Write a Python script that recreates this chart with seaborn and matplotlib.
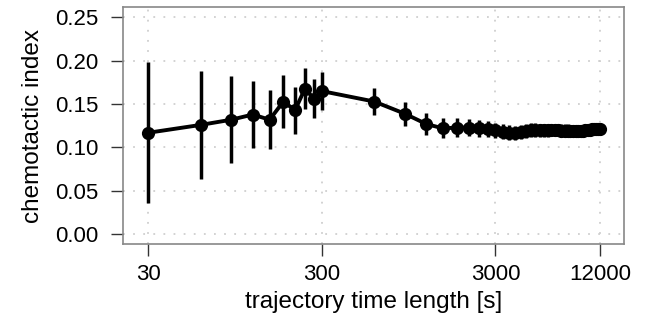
import matplotlib
matplotlib.use("Agg")
import matplotlib.pyplot as plt
import seaborn as sns
import pandas as pd
import numpy as np

# trajectory time length [s]
time_length = [30, 60, 90, 120, 150, 180, 210, 240, 270, 300,
               600, 900, 1200, 1500, 1800, 2100, 2400, 2700, 3000,
               3300, 3600, 3900, 4200, 4500, 4800, 5100, 5400, 5700, 6000,
               6300, 6600, 6900, 7200, 7500, 7800, 8100, 8400, 8700, 9000,
               9300, 9600, 9900, 10200, 10500, 10800, 11100, 11400, 11700, 12000]
chemotactic_index = [0.117, 0.126, 0.132, 0.138, 0.132, 0.153, 0.143, 0.168, 0.156, 0.165,
                     0.153, 0.139, 0.127, 0.122, 0.123, 0.123, 0.122, 0.121, 0.120,
                     0.118, 0.117, 0.117, 0.118, 0.119, 0.120, 0.120, 0.120, 0.120, 0.120,
                     0.120, 0.120, 0.120, 0.1195, 0.1195, 0.1195, 0.119, 0.119, 0.119, 0.119,
                     0.1195, 0.1195, 0.120, 0.120, 0.1205, 0.121, 0.121, 0.121, 0.1215, 0.1215]
error = [0.081, 0.062, 0.050, 0.039, 0.034, 0.030, 0.027, 0.024, 0.0225, 0.022,
         0.016, 0.014, 0.0125, 0.0115, 0.0105, 0.0100, 0.0095, 0.0090, 0.0088,
         0.0086, 0.0084, 0.0082, 0.0080, 0.0079, 0.0078, 0.0077, 0.0076, 0.0075, 0.0074,
         0.0073, 0.0073, 0.0072, 0.0072, 0.0071, 0.0071, 0.0070, 0.0070, 0.0070, 0.0069,
         0.0069, 0.0069, 0.0068, 0.0068, 0.0068, 0.0068, 0.0067, 0.0067, 0.0067, 0.0067]
x_ticks = [30, 300, 3000, 12000]
x_tick_labels = ["30", "300", "3000", "12000"]
y_ticks = [0.00, 0.05, 0.10, 0.15, 0.20, 0.25]
y_tick_labels = ["0.00", "0.05", "0.10", "0.15", "0.20", "0.25"]

df = pd.DataFrame({"t": time_length, "ci": chemotactic_index, "err": error})

sns.set_theme(style="white")
plt.rcParams["font.family"] = ["Liberation Sans", "DejaVu Sans"]

fig = plt.figure(figsize=(6.5, 3.24), dpi=100)
ax = fig.add_axes([0.1895, 0.247, 0.7705, 0.731])

grid_kw = dict(color="#cfcfcf", linewidth=1.3, linestyle=(0, (1, 4.6)), zorder=0)
for yv in y_ticks:
    ax.axhline(yv, **grid_kw)
for xv in x_ticks:
    ax.axvline(xv, **grid_kw)

ax.errorbar(df["t"], df["ci"], yerr=df["err"], fmt="none", ecolor="black",
            elinewidth=2.5, capsize=0, zorder=2)
sns.lineplot(data=df, x="t", y="ci", ax=ax, color="black", linewidth=2.8,
             marker="o", markersize=9.5, markeredgewidth=0, zorder=3)

ax.set_xscale("log")
ax.set_xlim(21.5, 16500)
ax.set_ylim(-0.0112, 0.2618)
ax.set_xticks(x_ticks)
ax.set_xticklabels(x_tick_labels)
ax.xaxis.set_minor_locator(matplotlib.ticker.NullLocator())
ax.set_yticks(y_ticks)
ax.set_yticklabels(y_tick_labels)

ax.tick_params(axis="both", which="major", direction="out", length=8.5, width=1.0,
               color="#333333", labelsize=16, labelcolor="black",
               bottom=True, left=True)
ax.tick_params(axis="x", pad=6)
ax.tick_params(axis="y", pad=9)

for s in ax.spines.values():
    s.set_color("#888888")
    s.set_linewidth(1.2)
    s.set_visible(True)

ax.set_xlabel("trajectory time length [s]", fontsize=17.5, labelpad=4, color="black")
ax.set_ylabel("chemotactic index", fontsize=17.5, labelpad=8, color="black")

fig.savefig("out.png", dpi=100, facecolor="white")
